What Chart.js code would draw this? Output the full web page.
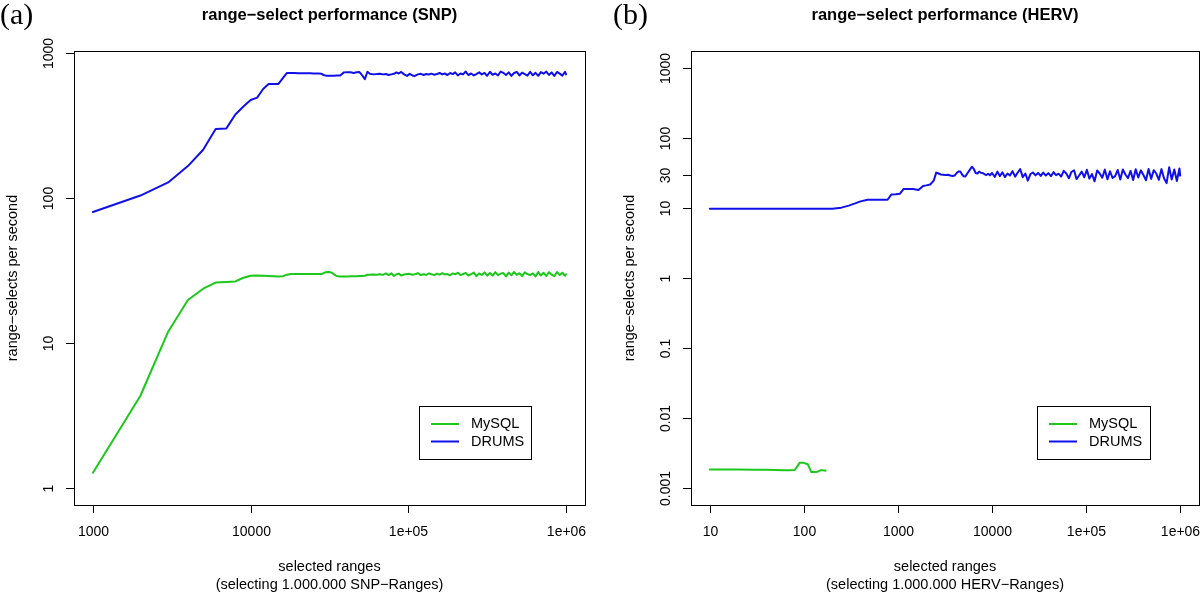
<!DOCTYPE html>
<html>
<head>
<meta charset="utf-8">
<script src="https://cdn.jsdelivr.net/npm/chart.js@4.4.0/dist/chart.umd.min.js"></script>
<style>
  body { margin: 0; background: #fff; }
  .panel { position: absolute; top: 0; width: 600px; height: 593px; }
</style>
</head>
<body>
<div class="panel" style="left:0"><canvas id="snp" width="600" height="593"></canvas></div>
<div class="panel" style="left:600px"><canvas id="herv" width="600" height="593"></canvas></div>
<script>
//Data SNP//
const xSnp = [
  1000, 2000, 3000, 4000, 5000, 6000, 7000, 8000, 9000, 10000,
  11000, 12000, 13000, 14000, 15000, 16000, 17000, 18000, 19000, 20000,
  21000, 22000, 23000, 24000, 25000, 26000, 27000, 28000, 29000, 30000,
  31000, 32000, 33000, 34000, 35000, 37000, 39000, 41000, 43000, 45000,
  47000, 49000, 51000, 53000, 55000, 57000, 60000, 63000, 66000, 69000,
  72000, 75000, 78000, 81000, 84000, 87000, 90000, 94000, 98000, 102000,
  106000, 110000, 115000, 120000, 125000, 130000, 135000, 140000, 146000, 152000,
  158000, 164000, 170000, 177000, 184000, 191000, 198000, 206000, 214000, 222000,
  231000, 240000, 250000, 260000, 270000, 281000, 292000, 304000, 316000, 329000,
  342000, 356000, 370000, 385000, 400000, 416000, 433000, 450000, 468000, 487000,
  506000, 526000, 547000, 569000, 592000, 616000, 640000, 666000, 692000, 720000,
  749000, 779000, 810000, 842000, 876000, 911000, 947000, 985000, 1000000
];
const drumsSnp = [
  80, 104, 128, 166, 215, 299, 301, 377, 427, 474,
  492, 565, 611, 611, 612, 670, 728, 728, 727, 726,
  725, 724, 724, 724, 723, 722, 722, 720, 705, 698,
  697, 697, 698, 698, 699, 700, 735, 737, 736, 728,
  736, 738, 700, 660, 742, 718, 712, 715, 720, 712,
  716, 705, 712, 718, 734, 722, 740, 712, 695, 718,
  700, 694, 712, 718, 705, 716, 710, 720, 708, 716,
  728, 712, 722, 705, 728, 715, 735, 700, 722, 712,
  745, 705, 722, 700, 715, 735, 712, 728, 696, 742,
  708, 722, 700, 745, 730, 705, 735, 695, 728, 740,
  700, 732, 715, 698, 742, 702, 730, 696, 738, 720,
  745, 705, 735, 695, 740, 720, 698, 742, 712
];
const mysqlSnp = [
  1.275, 4.33, 11.97, 19.8, 23.7, 26.1, 26.4, 26.6, 28.2, 29.1,
  29.2, 29.1, 29.0, 28.9, 28.8, 28.9, 29.6, 29.9, 29.9, 29.9,
  29.9, 29.9, 29.9, 29.9, 29.9, 29.9, 29.9, 29.9, 30.3, 30.8,
  30.9, 30.8, 30.3, 29.6, 29.0, 28.8, 28.8, 28.8, 28.9, 28.9,
  28.9, 29.0, 29.0, 29.1, 29.6, 29.6, 29.7, 29.6, 29.8, 29.5,
  30.2, 29.4, 30.3, 29.0, 29.8, 30.1, 29.2, 29.7, 29.9, 30.0,
  29.6, 29.8, 30.3, 29.4, 29.8, 29.5, 30.2, 29.8, 29.4, 30.1,
  29.6, 30.3, 29.7, 29.9, 29.3, 30.2, 29.8, 30.5, 29.4, 29.9,
  30.4, 29.2, 29.9, 30.6, 28.9, 30.2, 29.5, 30.7, 29.1, 30.4,
  29.2, 30.8, 29.4, 30.1, 30.4, 28.8, 30.6, 29.3, 30.9, 29.5,
  30.3, 28.9, 30.7, 29.9, 29.4, 30.2, 28.8, 30.9, 29.2, 30.5,
  29.0, 30.8, 29.6, 28.9, 30.9, 29.4, 30.5, 29.1, 29.8
];
const snpXTicks = [1000, 10000, 100000, 1000000];
const snpXLabels = ["1000", "10000", "1e+05", "1e+06"];
const snpYTicks = [1, 10, 100, 1000];
const snpYLabels = ["1", "10", "100", "1000"];
//Akhir Data SNP//

//Data HERV//
const xHerv = [
  10, 20, 50, 100, 150, 200, 250, 300, 350, 400,
  475, 550, 650, 775, 850, 950, 1050, 1150, 1300, 1450,
  1650, 1850, 2000, 2200, 2400, 2550, 2700, 2850, 3000, 3200,
  3400, 3600, 3800, 4000, 4200, 4400, 4600, 4800, 5000, 5200,
  5500, 5800, 6100, 6400, 6700, 7000, 7300, 7600, 7900, 8300,
  8700, 9100, 9500, 10000, 10700, 11400, 12100, 12900, 13700, 14600,
  15500, 16500, 17600, 18700, 19900, 21200, 22600, 24000, 25600, 27200,
  29000, 30900, 32900, 35000, 37300, 39700, 42300, 45000, 47900, 51000,
  54300, 57800, 61600, 65600, 69800, 74400, 79200, 84300, 89800, 95600,
  101800, 108400, 115500, 123000, 131000, 139500, 148500, 158200, 168500, 179400,
  191000, 203500, 216700, 230800, 245800, 261700, 278700, 296900, 316200, 336700,
  358600, 381900, 406700, 433200, 461300, 491300, 523200, 557200, 593400, 632000,
  673100, 716800, 763400, 813000, 865800, 922100, 982000, 1000000
];
const drumsHerv = [
  9.7, 9.7, 9.7, 9.7, 9.7, 9.7, 10.1, 10.8, 11.6, 12.4,
  13.1, 13.1, 13.1, 13.1, 15.5, 15.7, 16.0, 18.7, 18.7, 18.6,
  18.0, 20.6, 21.0, 21.6, 24.5, 31.9, 31.0, 30.0, 29.8, 29.6,
  29.8, 29.0, 28.6, 29.0, 31.5, 33.0, 33.0, 30.0, 28.3, 28.2,
  31.5, 35.0, 38.8, 36.0, 31.5, 31.0, 33.0, 31.8, 31.6, 30.5,
  29.5, 30.8, 29.3, 31.5, 27.8, 33.0, 28.5, 32.2, 27.6, 31.0,
  29.0, 33.5, 28.0, 31.8, 36.0, 27.5, 31.0, 24.5, 30.5, 32.0,
  29.2, 31.6, 28.6, 32.0, 29.0, 31.4, 28.4, 32.4, 29.3, 30.8,
  28.0, 33.8, 31.0, 26.5, 32.6, 34.5, 25.8, 29.0, 33.0, 27.4,
  35.0, 26.2, 30.5, 24.0, 34.2, 31.0, 27.0, 35.2, 25.6, 33.4,
  26.8, 28.5, 34.8, 25.4, 35.4, 30.0, 26.6, 33.8, 25.0, 35.6,
  27.2, 34.4, 29.5, 24.8, 36.0, 26.0, 34.6, 31.0, 25.2, 35.8,
  26.6, 22.6, 38.0, 25.4, 35.4, 24.2, 36.6, 29.0
];
const xHervMysql = [10, 20, 30, 40, 50, 60, 70, 80, 90, 100, 110, 120, 130, 140, 150, 160, 170];
const mysqlHerv = [
  0.00185, 0.00185, 0.00184, 0.00183, 0.00182, 0.00181, 0.00181, 0.00182, 0.0023, 0.0023,
  0.0022, 0.0017, 0.0017, 0.00172, 0.0018, 0.0018, 0.00178
];
const hervXTicks = [10, 100, 1000, 10000, 100000, 1000000];
const hervXLabels = ["10", "100", "1000", "10000", "1e+05", "1e+06"];
const hervYTicks = [0.001, 0.01, 0.1, 1, 10, 30, 100, 1000];
const hervYLabels = ["0.001", "0.01", "0.1", "1", "10", "30", "100", "1000"];
//Akhir Data HERV//

const GREEN = "rgb(28,200,28)";
const BLUE = "rgb(16,16,232)";
const SANS = '"Liberation Sans", Arial, sans-serif';

function toPoints(xs, ys) {
  return xs.map((x, i) => ({ x: x, y: ys[i] }));
}

// draws the R-style box, ticks, labels, title and legend
const rFrame = {
  id: "rFrame",
  afterDraw(chart, args, opt) {
    const ctx = chart.ctx;
    const a = chart.chartArea;
    const xs = chart.scales.x;
    const ys = chart.scales.y;
    ctx.save();
    ctx.strokeStyle = "#000";
    ctx.fillStyle = "#000";
    ctx.lineWidth = 1;
    ctx.strokeRect(Math.round(a.left) + 0.5, Math.round(a.top) + 0.5,
      Math.round(a.right - a.left), Math.round(a.bottom - a.top));

    ctx.font = "14px " + SANS;
    ctx.textAlign = "center";
    ctx.textBaseline = "middle";
    opt.xTicks.forEach((v, i) => {
      const px = Math.round(xs.getPixelForValue(v)) + 0.5;
      ctx.beginPath();
      ctx.moveTo(px, a.bottom);
      ctx.lineTo(px, a.bottom + 8);
      ctx.stroke();
      ctx.fillText(opt.xLabels[i], px, a.bottom + 27);
    });
    opt.yTicks.forEach((v, i) => {
      const py = Math.round(ys.getPixelForValue(v)) + 0.5;
      ctx.beginPath();
      ctx.moveTo(a.left, py);
      ctx.lineTo(a.left - 8, py);
      ctx.stroke();
      ctx.save();
      ctx.translate(a.left - 25, py);
      ctx.rotate(-Math.PI / 2);
      ctx.fillText(opt.yLabels[i], 0, 0);
      ctx.restore();
    });

    // axis titles
    const cx = (a.left + a.right) / 2;
    ctx.font = "14.5px " + SANS;
    ctx.fillText("selected ranges", cx, a.bottom + 62);
    ctx.fillText(opt.xSub, cx, a.bottom + 80);
    ctx.save();
    ctx.translate(a.left - 61, (a.top + a.bottom) / 2);
    ctx.rotate(-Math.PI / 2);
    ctx.fillText("range\u2212selects per second", 0, 0);
    ctx.restore();

    ctx.font = "bold 16.5px " + SANS;
    ctx.fillText(opt.title, cx, 15);

    ctx.font = '30px "Liberation Serif", "Times New Roman", serif';
    ctx.textAlign = "left";
    ctx.fillText(opt.panel, opt.panelX, 16);

    // legend
    const lg = opt.legend;
    ctx.strokeRect(lg.x + 0.5, lg.y + 0.5, lg.w, lg.h);
    ctx.lineWidth = 2;
    ctx.font = "14.5px " + SANS;
    [["MySQL", GREEN], ["DRUMS", BLUE]].forEach((item, i) => {
      const yy = lg.y + 18 + i * 17.5;
      ctx.strokeStyle = item[1];
      ctx.beginPath();
      ctx.moveTo(lg.x + 12, yy);
      ctx.lineTo(lg.x + 40, yy);
      ctx.stroke();
      ctx.fillText(item[0], lg.x + 52, yy);
    });
    ctx.restore();
  },
};

function makePanel(canvasId, datasets, limits, padding, frame) {
  const config = {
    type: "line",
    data: { datasets: datasets },
    options: {
      responsive: false,
      animation: false,
      devicePixelRatio: 1,
      layout: { padding: padding },
      elements: { point: { radius: 0 } },
      scales: {
        x: { type: "logarithmic", display: false, bounds: "data", min: limits.xMin, max: limits.xMax },
        y: { type: "logarithmic", display: false, bounds: "data", min: limits.yMin, max: limits.yMax },
      },
      plugins: {
        legend: { display: false },
        tooltip: { enabled: false },
        rFrame: frame,
      },
    },
    plugins: [rFrame],
  };
  return new Chart(document.getElementById(canvasId).getContext("2d"), config);
}

function lineSet(label, points, color) {
  return {
    label: label,
    data: points,
    borderColor: color,
    backgroundColor: color,
    borderWidth: 2,
    fill: false,
    tension: 0,
    borderJoinStyle: "round",
    borderCapStyle: "round",
  };
}

makePanel("snp",
  [lineSet("MySQL", toPoints(xSnp, mysqlSnp), GREEN), lineSet("DRUMS", toPoints(xSnp, drumsSnp), BLUE)],
  { xMin: Math.pow(10, 2.88), xMax: Math.pow(10, 6.12), yMin: 0.764, yMax: 1032 },
  { left: 74, right: 15, top: 51, bottom: 88 },
  {
    xTicks: snpXTicks, xLabels: snpXLabels, yTicks: snpYTicks, yLabels: snpYLabels,
    title: "range\u2212select performance (SNP)", xSub: "(selecting 1.000.000 SNP\u2212Ranges)",
    panel: "(a)", panelX: 0,
    legend: { x: 419, y: 406, w: 112, h: 53 },
  }
);

makePanel("herv",
  [lineSet("MySQL", toPoints(xHervMysql, mysqlHerv), GREEN), lineSet("DRUMS", toPoints(xHerv, drumsHerv), BLUE)],
  { xMin: Math.pow(10, 0.8), xMax: Math.pow(10, 6.2), yMin: Math.pow(10, -3.24), yMax: Math.pow(10, 3.24) },
  { left: 91, right: 1, top: 51, bottom: 88 },
  {
    xTicks: hervXTicks, xLabels: hervXLabels, yTicks: hervYTicks, yLabels: hervYLabels,
    title: "range\u2212select performance (HERV)", xSub: "(selecting 1.000.000 HERV\u2212Ranges)",
    panel: "(b)", panelX: 13,
    legend: { x: 437, y: 406, w: 113, h: 53 },
  }
);
</script>
</body>
</html>
